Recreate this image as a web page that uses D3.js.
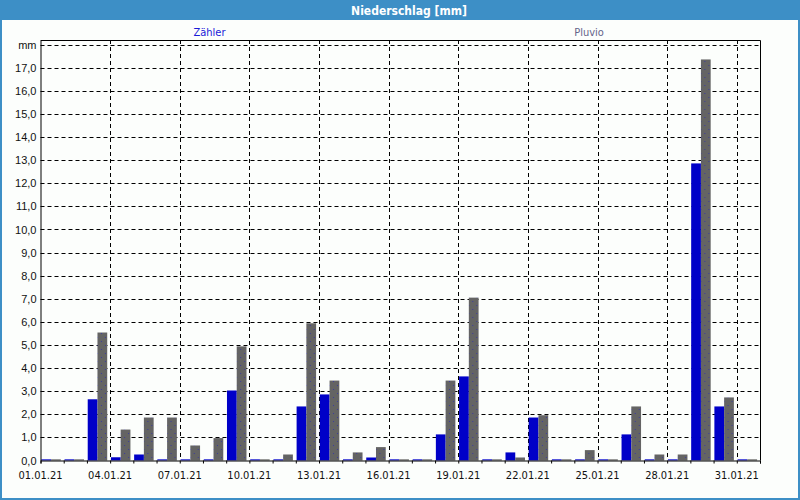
<!DOCTYPE html>
<html>
<head>
<meta charset="utf-8">
<script src="https://cdn.jsdelivr.net/npm/d3@7"></script>
<style>
  body { margin: 0; background: #fff; }
  svg { display: block; font-family: "DejaVu Sans Condensed", "Liberation Sans", sans-serif; }
</style>
</head>
<body>
<div id="chart-container"></div>
<script>
// days of January 2021
const days = d3.range(1, 32);
// Zähler (blue) and Pluvio (gray), mm per day
const zaehler = [0.05, 0.05, 2.65, 0.14, 0.26, 0.05, 0.05, 0.05, 3.03, 0.05,
                 0.05, 2.34, 2.86, 0.05, 0.13, 0.05, 0.05, 1.13, 3.64, 0.05,
                 0.35, 1.86, 0.05, 0.05, 0.05, 1.13, 0.05, 0.05, 12.86, 2.34, 0.05];
const pluvio = [0.05, 0.05, 5.54, 1.34, 1.86, 1.86, 0.65, 0.97, 4.94, 0.05,
                0.26, 5.94, 3.46, 0.35, 0.58, 0.05, 0.05, 3.46, 7.05, 0.05,
                0.13, 1.96, 0.05, 0.45, 0.05, 2.34, 0.26, 0.26, 17.36, 2.73, 0.05];
const seriesNames = ['Zähler', 'Pluvio'];
const yTicks = d3.range(0, 19);
const labelDays = [1, 4, 7, 10, 13, 16, 19, 22, 25, 28, 31];

const W = 800, H = 500;
const margin = { top: 40, right: 40, bottom: 40, left: 40.5 };

const svg = d3.select('#chart-container')
  .append('svg')
  .attr('width', W)
  .attr('height', H);

// dotted fill for the Pluvio bars
const pat = svg.append('defs').append('pattern')
  .attr('id', 'dots')
  .attr('patternUnits', 'userSpaceOnUse')
  .attr('width', 8).attr('height', 8);
pat.append('rect').attr('width', 8).attr('height', 8).attr('fill', '#646464');
pat.append('rect').attr('x', 2).attr('y', 1).attr('width', 1).attr('height', 1).attr('fill', '#3c3c9c');
pat.append('rect').attr('x', 6).attr('y', 5).attr('width', 1).attr('height', 1).attr('fill', '#3c3c9c');

// window frame + title bar
svg.append('rect').attr('x', 0).attr('y', 0).attr('width', W).attr('height', H).attr('fill', '#3d8fc6');
svg.append('rect').attr('x', 2).attr('y', 20).attr('width', W - 4).attr('height', H - 22).attr('fill', '#fcfefc');
svg.append('text')
  .attr('x', 409).attr('y', 14.5)
  .attr('text-anchor', 'middle')
  .attr('fill', '#fff')
  .style('font-weight', 'bold')
  .style('font-size', '12px')
  .text('Niederschlag [mm]');

// legend
svg.selectAll('.legend')
  .data(seriesNames)
  .enter()
  .append('text')
  .attr('x', (d, i) => i === 0 ? 209.5 : 589)
  .attr('y', 36)
  .attr('text-anchor', 'middle')
  .style('font-size', '11px')
  .attr('fill', (d, i) => i === 0 ? '#1a1ad8' : '#64648a')
  .text(d => d);

const x0 = 40.5, x1 = 760;
const x = d3.scaleLinear().domain([1, 32]).range([x0, x1]);
const y = d3.scaleLinear().domain([0, 18.18]).range([460.5, 40.5]);
const dayW = x(2) - x(1);

const inner = d3.scaleBand().domain(seriesNames).range([0.8, 20.3]);

// gridlines
svg.append('g')
  .selectAll('line')
  .data(yTicks.filter(d => d > 0))
  .enter()
  .append('line')
  .attr('x1', x0).attr('x2', x1)
  .attr('y1', d => Math.round(y(d)) + 0.5).attr('y2', d => Math.round(y(d)) + 0.5)
  .attr('stroke', '#000').attr('stroke-dasharray', '4,3');

svg.append('g')
  .selectAll('line')
  .data(labelDays.filter(d => d > 1))
  .enter()
  .append('line')
  .attr('x1', d => Math.round(x(d)) + 0.5).attr('x2', d => Math.round(x(d)) + 0.5)
  .attr('y1', 40).attr('y2', 460)
  .attr('stroke', '#000').attr('stroke-dasharray', '4,3');

// bars
const rows = days.map((d, i) => ({ day: d, values: [zaehler[i], pluvio[i]] }));
const groups = svg.append('g')
  .selectAll('g')
  .data(rows)
  .enter()
  .append('g')
  .attr('transform', d => `translate(${x(d.day)},0)`);

groups.selectAll('rect')
  .data(d => d.values.map((v, i) => ({ name: seriesNames[i], v })))
  .enter()
  .append('rect')
  .attr('x', d => inner(d.name))
  .attr('width', inner.bandwidth())
  .attr('y', d => y(d.v))
  .attr('height', d => y(0) - y(d.v))
  .attr('fill', d => d.name === 'Zähler' ? '#0000c8' : 'url(#dots)');

// plot border
svg.append('path')
  .attr('d', `M${x0},40.5H${x1 + 0.5}V460.5`)
  .attr('fill', 'none').attr('stroke', '#000');

// y axis
const yAxis = svg.append('g')
  .attr('transform', `translate(${x0},0)`)
  .call(d3.axisLeft(y).tickValues(yTicks).tickSize(0).tickPadding(4)
    .tickFormat(d => d === 18 ? 'mm' : d3.format('.1f')(d).replace('.', ',')));
yAxis.select('.domain').attr('stroke', '#000');
yAxis.selectAll('text').style('font-size', '11px').attr('fill', '#111').attr('font-family', null);

// x axis
const xAxis = svg.append('g')
  .attr('transform', 'translate(0,460.5)')
  .call(d3.axisBottom(x).tickValues(d3.range(1, 33)).tickSize(3).tickFormat(''));
xAxis.select('.domain').attr('stroke', '#000');

svg.append('g')
  .selectAll('text')
  .data(labelDays)
  .enter()
  .append('text')
  .attr('x', d => x(d))
  .attr('y', 479)
  .attr('text-anchor', 'middle')
  .style('font-size', '11px')
  .attr('fill', '#111')
  .text(d => d3.timeFormat('%d.%m.%y')(new Date(2021, 0, d)));
</script>
</body>
</html>
